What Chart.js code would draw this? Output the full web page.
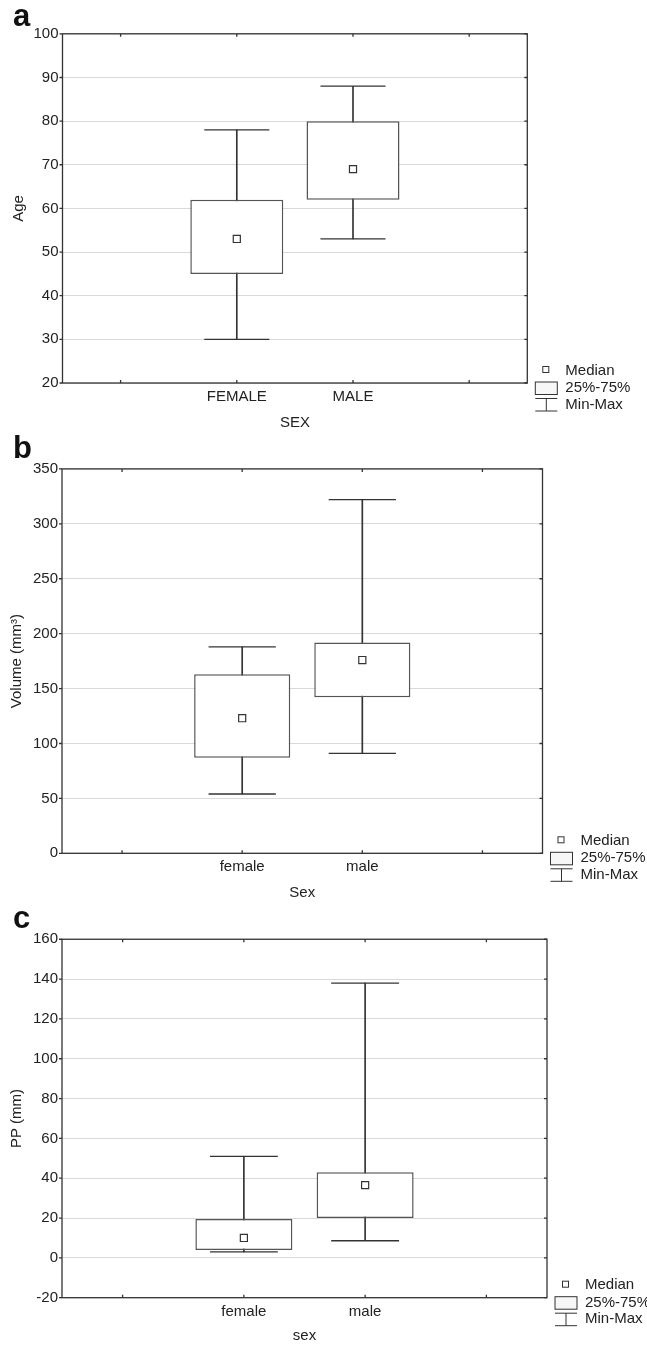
<!DOCTYPE html>
<html>
<head>
<meta charset="utf-8">
<script src="https://cdn.jsdelivr.net/npm/chart.js@4"></script>
<style>
body{margin:0;background:#fff;}
canvas{position:absolute;left:0;}
</style>
</head>
<body>
<canvas id="chartA" width="647" height="434" style="top:0px"></canvas>
<canvas id="chartB" width="647" height="470" style="top:434px"></canvas>
<canvas id="chartC" width="647" height="443" style="top:904px"></canvas>
<script>
/* panel a: Age */
const catsA = ['FEMALE', 'MALE'];
const minA = [30, 53];
const q1A  = [45, 62];
const medA = [53, 69];
const q3A  = [62, 80];
const maxA = [78, 88];
const yAxisA = [20, 100, 10];   // min, max, step

/* panel b: Volume */
const catsB = ['female', 'male'];
const minB = [54, 91];
const q1B  = [87, 142];
const medB = [123, 176];
const q3B  = [163, 192];
const maxB = [188, 322];
const yAxisB = [0, 350, 50];

/* panel c: PP */
const catsC = ['female', 'male'];
const minC = [3, 8.6];
const q1C  = [4, 20];
const medC = [10, 36.5];
const q3C  = [19.5, 43];
const maxC = [51, 138];
const yAxisC = [-20, 160, 20];

const FONT = "'Liberation Sans', Arial, sans-serif";
Chart.defaults.font.family = FONT;
Chart.defaults.color = '#222';

const pad = (arr) => [null, ...arr, null];

/* frame, ticks, panel letter and legend */
const framePlugin = {
    id: 'frame',
    afterDraw(chart, args, opts){
        const {ctx, chartArea: a, scales: {x, y}} = chart;
        ctx.save();
        ctx.strokeStyle = '#333';
        ctx.lineWidth = 1.3;
        ctx.strokeRect(a.left, a.top, a.width, a.height);
        ctx.beginPath();
        y.ticks.forEach((t, i) => {
            const py = y.getPixelForTick(i);
            ctx.moveTo(a.left - 3, py); ctx.lineTo(a.left, py);
            ctx.moveTo(a.right - 3, py); ctx.lineTo(a.right, py);
        });
        x.ticks.forEach((t, i) => {
            const px = x.getPixelForTick(i);
            ctx.moveTo(px, a.top); ctx.lineTo(px, a.top + 3);
            ctx.moveTo(px, a.bottom); ctx.lineTo(px, a.bottom - 3);
        });
        ctx.stroke();

        // letter
        ctx.fillStyle = '#111';
        ctx.font = 'bold 31px ' + FONT;
        ctx.textBaseline = 'alphabetic';
        ctx.fillText(opts.letter, 13, opts.letterY);

        // legend
        const lx = a.right, ly = a.bottom;
        ctx.lineWidth = 1;
        ctx.strokeStyle = '#333';
        ctx.fillStyle = '#fff';
        ctx.fillRect(lx + 15.5, ly - 16.5, 6, 6);
        ctx.strokeRect(lx + 15.5, ly - 16.5, 6, 6);
        ctx.fillStyle = '#f7f7f7';
        ctx.fillRect(lx + 8, ly - 1, 22, 12.5);
        ctx.strokeRect(lx + 8, ly - 1, 22, 12.5);
        ctx.beginPath();
        ctx.moveTo(lx + 8, ly + 15.5); ctx.lineTo(lx + 30, ly + 15.5);
        ctx.moveTo(lx + 8, ly + 28); ctx.lineTo(lx + 30, ly + 28);
        ctx.moveTo(lx + 19, ly + 15.5); ctx.lineTo(lx + 19, ly + 28);
        ctx.stroke();
        ctx.fillStyle = '#222';
        ctx.font = '15px ' + FONT;
        ctx.textBaseline = 'middle';
        ctx.fillText('Median', lx + 38, ly - 12.5);
        ctx.fillText('25%-75%', lx + 38, ly + 5);
        ctx.fillText('Min-Max', lx + 38, ly + 21.5);
        ctx.restore();
    }
};

function makeBoxChart(id, letter, letterY, cats, mins, q1s, meds, q3s, maxs, yAxis, yTitle, xTitle, g){
    const canvas = document.getElementById(id);
    const labels = ['', ...cats, ''];
    const capR = (g.right - g.left) / labels.length * 0.28;
    const datasets = [
        {
            type: 'bar',
            data: pad(mins.map((m, i) => [m, maxs[i]])),
            backgroundColor: '#333',
            barThickness: 1,
            grouped: false,
            order: 4
        },
        {
            type: 'bar',
            data: pad(q1s.map((q, i) => [q, q3s[i]])),
            backgroundColor: '#fff',
            borderColor: '#555',
            borderWidth: 1.5,
            borderSkipped: false,
            barPercentage: 0.8,
            categoryPercentage: 1,
            grouped: false,
            order: 3
        },
        {
            type: 'line',
            data: pad(mins),
            showLine: false,
            pointStyle: 'line',
            pointRadius: capR,
            pointBorderColor: '#333',
            pointBorderWidth: 1.3,
            order: 2
        },
        {
            type: 'line',
            data: pad(maxs),
            showLine: false,
            pointStyle: 'line',
            pointRadius: capR,
            pointBorderColor: '#333',
            pointBorderWidth: 1.3,
            order: 2
        },
        {
            type: 'line',
            data: pad(meds),
            showLine: false,
            pointStyle: 'rect',
            pointRadius: 5,
            pointBackgroundColor: '#fff',
            pointBorderColor: '#333',
            pointBorderWidth: 1.2,
            order: 1
        }
    ];

    return new Chart(canvas.getContext('2d'), {
        data: { labels, datasets },
        plugins: [framePlugin],
        options: {
            responsive: false,
            animation: false,
            devicePixelRatio: 1,
            layout: { padding: { top: g.top, right: canvas.width - g.right, left: 0, bottom: 0 } },
            plugins: {
                legend: { display: false },
                tooltip: { enabled: false },
                frame: { letter, letterY }
            },
            scales: {
                x: {
                    type: 'category',
                    offset: true,
                    grid: { display: false, drawTicks: false },
                    border: { display: false },
                    ticks: { font: { size: 15 }, padding: 5, color: '#222' },
                    title: { display: true, text: xTitle, font: { size: 15 }, color: '#222', padding: { top: 0, bottom: 2 } },
                    afterFit: (s) => { s.height = canvas.height - g.bottom; }
                },
                y: {
                    min: yAxis[0],
                    max: yAxis[1],
                    ticks: { stepSize: yAxis[2], font: { size: 15 }, padding: 4, color: '#222' },
                    grid: { color: '#d9d9d9', drawTicks: false },
                    border: { display: false },
                    title: { display: true, text: yTitle, font: { size: 15 }, color: '#222', padding: { top: g.titlePad, bottom: 0 } },
                    afterFit: (s) => { s.width = g.left; }
                }
            }
        }
    });
}

makeBoxChart('chartA', 'a', 26, catsA, minA, q1A, medA, q3A, maxA, yAxisA, 'Age', 'SEX',
    { left: 62.5, right: 527.3, top: 33.3, bottom: 383, titlePad: 10 });
makeBoxChart('chartB', 'b', 24.3, catsB, minB, q1B, medB, q3B, maxB, yAxisB, 'Volume (mm³)', 'Sex',
    { left: 62, right: 542.5, top: 29.4, bottom: 419.3, titlePad: 8 });
makeBoxChart('chartC', 'c', 24.3, catsC, minC, q1C, medC, q3C, maxC, yAxisC, 'PP (mm)', 'sex',
    { left: 62, right: 547, top: 30.7, bottom: 393.7, titlePad: 8 });
</script>
</body>
</html>
